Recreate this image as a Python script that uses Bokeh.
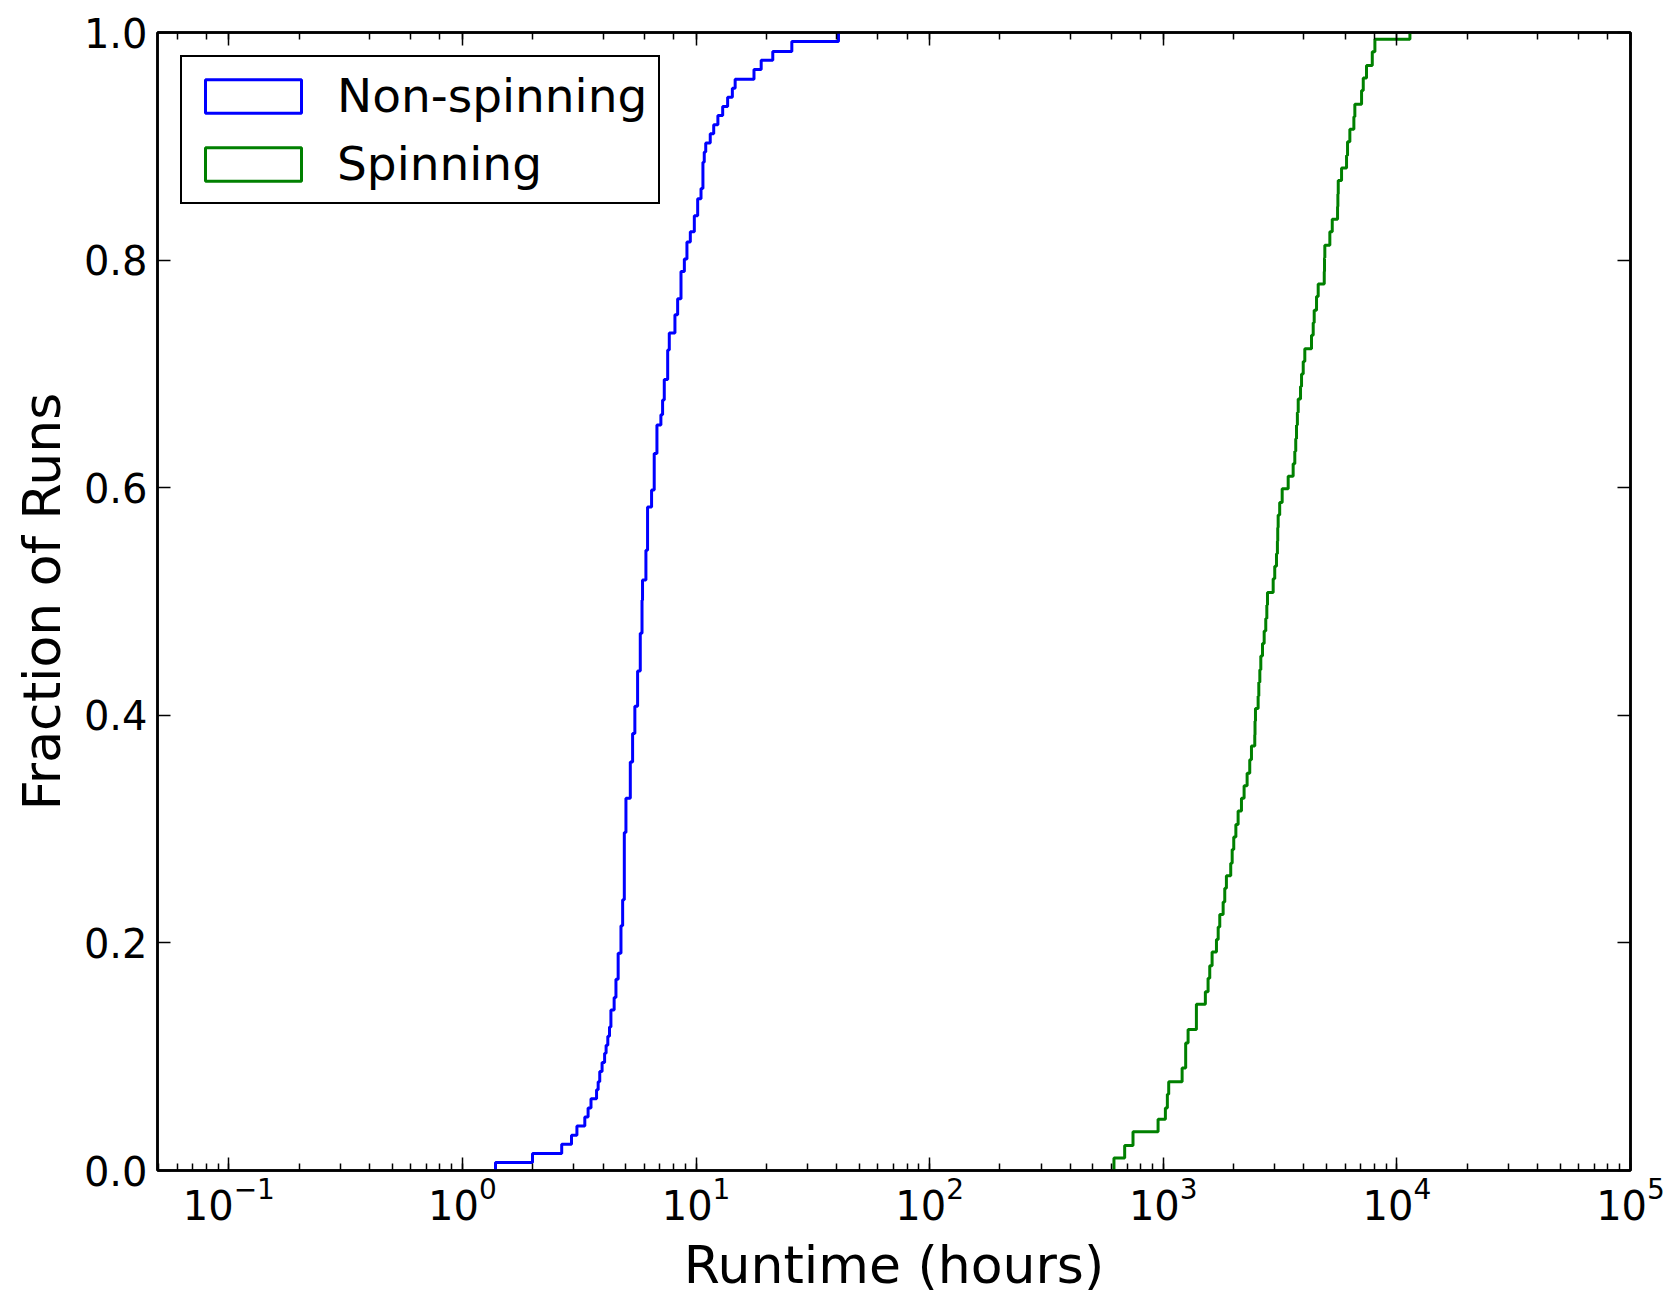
from bokeh.plotting import figure
from bokeh.models import (Range1d, LogAxis, LinearAxis, LogTicker, FixedTicker,
                          PrintfTickFormatter, Legend, LegendItem)
from bokeh.embed import file_html
from bokeh.resources import INLINE

# ---- data (cumulative fraction reached at each runtime) ----
nonspin_hours = [1.385, 1.385, 1.995, 2.66, 2.93, 3.09, 3.34, 3.45, 3.55, 3.75, 3.81,
                 3.87, 3.96, 4.06, 4.12, 4.19, 4.26, 4.32, 4.46, 4.54, 4.64,
                 4.77, 4.85, 4.93, 5.01, 5.23, 5.35, 5.47, 5.62, 5.77, 5.87,
                 5.90, 6.10, 6.20, 6.45, 6.62, 6.80, 7.07, 7.19, 7.31, 7.56,
                 7.68, 8.12, 8.34, 8.62, 8.91, 9.14, 9.45, 9.83, 10.16, 10.5,
                 10.7, 10.84, 11.0, 11.5, 11.9, 12.4, 13.0, 13.65, 14.3, 14.7,
                 17.7, 19.0, 21.3, 25.7, 40.7]
nonspin_frac = [0.0, 0.007, 0.015, 0.023, 0.031, 0.039, 0.047, 0.055, 0.063, 0.071, 0.078,
                0.087, 0.095, 0.103, 0.110, 0.118, 0.126, 0.141, 0.152, 0.168, 0.191,
                0.215, 0.238, 0.297, 0.327, 0.359, 0.384, 0.408, 0.439, 0.472, 0.501,
                0.519, 0.545, 0.583, 0.598, 0.630, 0.655, 0.664, 0.677, 0.695, 0.721,
                0.736, 0.752, 0.766, 0.790, 0.801, 0.816, 0.825, 0.839, 0.854, 0.863,
                0.886, 0.895, 0.903, 0.911, 0.919, 0.927, 0.935, 0.943, 0.951, 0.959,
                0.9675, 0.9757, 0.9833, 0.992, 1.0]

spin_hours = [615, 615, 683.5, 742, 950, 1021, 1041, 1055, 1204, 1247, 1277,
              1386, 1514, 1555, 1581, 1618, 1689, 1718, 1745, 1804, 1833,
              1863, 1944, 1972, 2003, 2045, 2091, 2161, 2218, 2285, 2345,
              2385, 2464, 2470, 2481, 2547, 2564, 2590, 2615, 2659, 2703,
              2746, 2775, 2793, 2954, 3000, 3052, 3080, 3090, 3103, 3150,
              3228, 3425, 3597, 3656, 3690, 3718, 3750, 3781, 3868, 3907,
              3972, 4035, 4310, 4383, 4426, 4529, 4604, 4887, 4900, 4915,
              5164, 5288, 5572, 5590, 5610, 5796, 6088, 6148, 6290, 6544,
              6607, 7060, 7178, 7413, 7846, 8051, 11370]
spin_frac = [0.0, 0.011, 0.022, 0.034, 0.045, 0.055, 0.067, 0.078, 0.090, 0.112, 0.124,
             0.146, 0.157, 0.169, 0.180, 0.192, 0.203, 0.214, 0.225, 0.236, 0.248,
             0.259, 0.270, 0.282, 0.293, 0.304, 0.316, 0.327, 0.338, 0.349, 0.361,
             0.373, 0.383, 0.395, 0.406, 0.417, 0.429, 0.440, 0.452, 0.463, 0.474,
             0.485, 0.497, 0.508, 0.520, 0.531, 0.542, 0.553, 0.565, 0.576, 0.587,
             0.599, 0.610, 0.621, 0.632, 0.643, 0.655, 0.666, 0.678, 0.689, 0.700,
             0.711, 0.722, 0.734, 0.745, 0.756, 0.768, 0.779, 0.790, 0.802, 0.813,
             0.825, 0.836, 0.847, 0.858, 0.870, 0.881, 0.892, 0.904, 0.915, 0.926,
             0.937, 0.949, 0.960, 0.971, 0.983, 0.994, 1.0]

series_labels = ["Non-spinning", "Spinning"]
series_colors = ["#0000ff", "#008000"]
y_ticks = [0.0, 0.2, 0.4, 0.6, 0.8, 1.0]
x_label = "Runtime (hours)"
y_label = "Fraction of Runs"

FONT = "DejaVu Sans"

p = figure(width=1665, height=1297, x_axis_type="log",
           x_range=Range1d(0.0495, 1e5), y_range=Range1d(0, 1),
           output_backend="svg", toolbar_location=None,
           min_border_left=157, min_border_right=35,
           min_border_top=32, min_border_bottom=126)

p.grid.visible = False
p.background_fill_color = "white"
p.border_fill_color = "white"
p.outline_line_color = "black"
p.outline_line_width = 2.5

r_blue = p.step(x=nonspin_hours, y=nonspin_frac, mode="after",
                line_color=series_colors[0], line_width=3)
r_green = p.step(x=spin_hours, y=spin_frac, mode="after",
                 line_color=series_colors[1], line_width=3)

# legend patches (rectangles like matplotlib's step-hist legend); hidden in the plot
patch_blue = p.quad(left=nonspin_hours[:1], right=nonspin_hours[1:2],
                    bottom=nonspin_frac[:1], top=nonspin_frac[:1],
                    fill_color="white", line_color=series_colors[0], line_width=3)
patch_green = p.quad(left=spin_hours[:1], right=spin_hours[1:2],
                     bottom=spin_frac[:1], top=spin_frac[:1],
                     fill_color="white", line_color=series_colors[1], line_width=3)
patch_blue.visible = False
patch_green.visible = False

def style_axis(ax, show_labels):
    ax.axis_line_color = "black"
    ax.axis_line_width = 2.5
    ax.major_tick_in = 13
    ax.major_tick_out = 0
    ax.minor_tick_in = 7
    ax.minor_tick_out = 0
    ax.major_tick_line_width = 1.5
    ax.minor_tick_line_width = 1.5
    ax.major_tick_line_color = "black"
    ax.minor_tick_line_color = "black"
    if show_labels:
        ax.major_label_text_font = FONT
        ax.major_label_text_font_size = "40px"
        ax.major_label_text_color = "black"
        ax.axis_label_text_font = FONT
        ax.axis_label_text_font_size = "52px"
        ax.axis_label_text_font_style = "normal"
        ax.axis_label_text_color = "black"
    else:
        ax.major_label_text_font_size = "0px"
        ax.major_label_text_color = None
        ax.major_label_standoff = 0

# bottom (log) axis
xb = p.xaxis[0]
style_axis(xb, True)
xb.axis_label = x_label
xb.major_label_standoff = 6
xb.axis_label_standoff = 12

# left axis
yl = p.yaxis[0]
style_axis(yl, True)
yl.ticker = FixedTicker(ticks=y_ticks)
yl.formatter = PrintfTickFormatter(format="%.1f")
yl.minor_tick_line_color = None
yl.axis_label = y_label
yl.major_label_standoff = 10
yl.axis_label_standoff = 9

# top and right axes: ticks only
xt = LogAxis(ticker=LogTicker())
style_axis(xt, False)
p.add_layout(xt, "above")

yr = LinearAxis(ticker=FixedTicker(ticks=y_ticks))
style_axis(yr, False)
yr.minor_tick_line_color = None
p.add_layout(yr, "right")

legend = Legend(items=[LegendItem(label=series_labels[0], renderers=[patch_blue]),
                       LegendItem(label=series_labels[1], renderers=[patch_green])],
                location="top_left")
legend.margin = 23
legend.padding = 11
legend.spacing = 13
legend.glyph_width = 120
legend.glyph_height = 42
legend.label_standoff = 24
legend.label_text_font = FONT
legend.label_text_font_size = "47px"
legend.label_text_color = "black"
legend.border_line_color = "black"
legend.border_line_alpha = 1.0
legend.border_line_width = 2.5
legend.background_fill_color = "white"
legend.background_fill_alpha = 1.0
p.add_layout(legend, "center")

open("out.html", "w").write(file_html(p, INLINE))
